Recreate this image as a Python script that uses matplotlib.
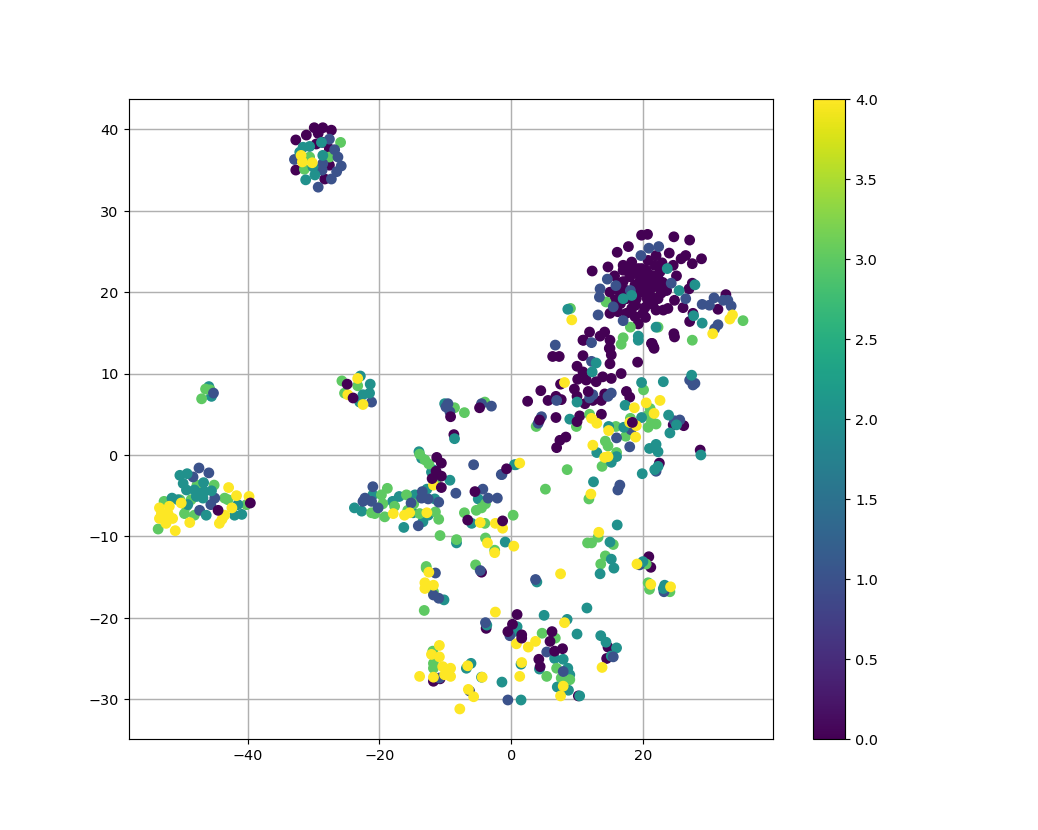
import numpy as np
import matplotlib
matplotlib.use("Agg")
import matplotlib.pyplot as plt

# values, (x, y) per label, listed in drawing order
Purple_Points=[(19.8,27.0),(20.7,27.1),(24.7,26.8),(27.1,26.4),(17.8,25.6),(16.1,24.9),(14.7,23.1),(12.3,22.6),(17.0,23.3),(18.3,23.7),
(20.8,23.9),(22.0,24.5),(24.0,24.8),(26.5,24.5),(25.8,24.1),(27.5,23.5),(28.9,24.1),(19.3,22.9),(15.7,22.0),(17.0,22.7),
(18.0,21.9),(20.5,22.7),(21.8,23.3),(22.6,22.5),(24.6,23.3),(25.1,22.0),(21.0,21.7),(22.3,21.7),(19.5,21.3),(17.0,21.3),
(18.8,20.9),(27.5,21.1),(27.0,20.4),(23.6,20.2),(15.0,20.0),(16.5,20.0),(15.7,19.0),(17.5,19.2),(20.8,19.8),(22.3,19.2),
(19.0,19.2),(24.8,19.0),(20.8,18.8),(22.0,17.8),(23.8,18.0),(23.1,17.8),(26.1,18.1),(27.6,17.4),(31.4,17.9),(32.6,19.7),
(18.3,18.0),(15.0,17.4),(16.2,17.6),(17.5,17.4),(18.8,17.0),(20.4,16.9),(19.3,16.1),(24.7,14.9),(24.8,14.5),(14.2,15.1),
(13.5,14.6),(11.9,15.1),(11.0,14.1),(15.0,14.1),(14.9,13.1),(21.3,13.7),(21.7,13.1),(27.1,16.4),(19.5,20.0),(21.5,20.6),(20.0,21.9),
(18.8,22.3),(19.6,22.2),(20.3,21.0),(21.0,20.6),(21.8,20.9),(22.5,20.6),(23.0,21.2),(19.0,20.3),(20.2,20.2),(20.6,19.3),
(21.4,19.4),(22.8,19.9),(21.5,18.5),(20.3,18.1),(18.9,18.4),(16.3,21.0),(17.5,20.2),(16.6,18.6),(19.8,22.9),(20.9,22.2),
(21.5,22.0),(23.2,23.0),(22.9,23.6),(18.0,22.8),(17.4,19.9),(18.4,19.1),(21.6,21.2),(20.0,17.4),
(15.0,13.1),(15.2,12.3),(15.0,11.2),(10.9,12.2),(6.3,12.1),(7.3,12.1),(19.2,11.4),(10.0,10.9),(21.4,13.7),(21.6,13.3),
(16.7,10.0),(10.9,10.2),(10.1,9.3),(11.4,9.2),(12.9,9.0),(13.9,9.6),(15.2,9.4),(7.5,8.7),(4.5,7.9),(9.6,8.1),(10.0,7.2),
(5.6,6.7),(6.8,7.2),(7.6,6.8),(2.5,6.6),(11.2,6.3),(12.4,6.7),(14.2,7.5),(13.7,6.7),(17.5,7.8),(18.0,7.1),(13.7,5.0),
(10.4,4.8),(6.8,4.6),(8.3,2.2),(7.4,1.8),(6.9,0.9),(26.2,3.6),(24.6,3.7),(28.7,0.6),(22.5,-1.0),(10.9,14.1),
(-29.9,40.2),(-28.6,40.2),(-27.3,39.9),(-32.7,38.7),(-31.1,39.3),(-29.3,39.5),(-28.6,38.4),(-27.6,37.6),(-32.7,35.0),
(-28.3,33.9),(-27.6,35.6),(-29.6,38.2),(-8.7,2.5),(-4.5,-14.4),(-11.8,-27.8),(-10.8,-27.5),(10.2,-29.6),(14.7,-23.6),(14.5,-25.0),
(20.9,-12.5),(21.2,-13.8),(-3.8,-21.3)]

Teal_Points=[(-14.0,0.4),(-13.6,-0.4),(-11.9,-1.8),(-12.1,-2.1),(-9.3,-3.1),(-12.8,-4.2),(-21.0,-4.9),(-23.8,-6.5),(-22.7,-6.9),
(-17.0,-5.1),(-18.0,-5.7),(-11.6,-5.4),(-14.6,-4.9),(-14.9,-7.1),(-13.4,-8.2),(-16.3,-8.9),(-5.0,-5.4),(-6.0,-8.4),(-8.3,-10.8),
(-0.9,-10.7),(0.5,-1.2),(-12.6,-7.4),(-45.5,7.2),(-45.9,8.4),(-10.1,6.3),(-8.6,2.0),(3.9,-15.6),(5.0,-19.7),(8.5,-20.2),
(11.5,-18.8),(10.0,-22.0),(0.9,-21.1),(0.4,-21.7),(13.6,-22.2),(14.4,-23.0),(16.0,-23.7),(15.2,-24.7),(7.9,-25.1),(6.6,-25.0),
(8.6,-26.2),(8.9,-27.0),(4.3,-26.3),(1.5,-25.7),(-6.8,-26.2),(-6.1,-25.6),(-1.4,-27.9),(7.0,-28.5),(8.7,-28.9),(10.4,-29.6),
(1.5,-30.1),(-4.5,-27.3),(-10.2,-17.8),(-3.7,-20.9)]

Green_Points=[(22.3,15.7),(18.1,15.7),(14.4,18.8),(9.0,18.0),(17.0,14.4),(16.7,13.6),(27.5,14.1),(35.2,16.5),
(20.1,8.0),(11.9,5.0),(9.9,3.5),(3.8,3.5),(18.1,4.5),(15.9,3.5),(17.4,2.3),(14.3,1.7),(14.7,1.1),(16.0,0.3),
(13.8,-1.4),(8.5,-1.8),(5.2,-4.2),(21.1,5.7),(20.8,4.9),(21.3,4.1),(22.0,3.8),(20.8,3.4),
(-25.9,38.4),(-30.6,36.6),(-31.4,35.1),(-27.6,36.6),
(-47.7,-3.7),(-45.1,-3.7),(-52.7,-5.7),(-50.3,-5.5),(-49.3,-6.3),(-49.6,-7.2),(-48.1,-7.4),(-43.5,-5.3),(-40.2,-6.1),(-53.6,-9.1),
(-48.6,-5.5),(-43.0,-5.5),
(-13.9,0.1),(-13.1,-0.6),(-12.5,-1.1),(-18.8,-4.1),(-19.7,-4.9),(-19.5,-6.0),(-19.2,-7.6),(-21.2,-7.1),(-20.7,-7.2),(-17.7,-6.3),
(-15.9,-4.9),(-14.8,-6.0),(-15.7,-6.8),(-13.9,-7.2),(-11.5,-7.0),(-11.0,-7.9),(-11.4,-3.1),(-7.1,-7.1),(-5.3,-6.8),(-4.5,-6.5),
(-3.9,-6.0),(-4.0,-8.4),(0.3,-7.4),(-10.8,-9.9),(-8.3,-10.4),(-3.9,-10.2),(-2.5,-11.7),(-5.4,-13.5),(-12.9,-13.7),
(-12.9,-13.9),(-11.8,-16.8),(-11.8,-25.6),(-11.8,-26.2),(-13.2,-19.1),(-11.9,-24.1),(4.7,-21.9),(6.7,-22.5),(5.4,-27.2),
(6.9,-26.2),(7.6,-27.4),(8.9,-27.6),
(11.8,-5.4),(11.6,-10.8),(12.2,-10.8),(13.2,-10.1),(15.5,-11.0),(14.3,-12.4),(13.6,-13.4),(20.5,-13.4),(20.8,-15.7),(21.0,-16.5),(24.1,-16.8),
(-46.4,8.1),(-45.7,8.0),(-47.0,6.9),(-25.7,9.1),(-23.3,8.5),(-25.3,7.6),(-8.6,5.8),(-7.1,5.2),(-4.0,6.5)]

Blue_Points=[(20.9,25.4),(22.4,25.6),(19.7,24.5),(14.6,21.6),(15.9,20.8),(13.5,20.4),(13.4,19.4),(18.1,20.2),(15.5,18.2),(13.2,17.2),
(17.0,16.5),(24.3,21.1),(26.5,19.2),(29.0,18.5),(30.8,19.3),(30.1,18.4),(32.2,19.0),(32.9,19.0),(33.4,18.3),(30.9,15.5),(31.4,16.0),(12.2,13.8),
(6.7,13.5),(12.2,11.5),(27.1,9.2),(27.9,8.8),(27.6,8.6),(12.4,7.4),(11.9,7.0),(14.7,7.2),(15.2,7.6),(6.9,6.7),(4.6,4.7),(4.1,3.9),
(16.0,2.1),(18.0,1.0),(24.8,4.2),(25.6,4.3),(22.0,-2.0),(-1.5,-2.4),(-4.3,-4.2),(16.5,-3.7),(18.2,3.1),
(-27.6,38.8),(-26.8,37.5),(-26.3,36.6),(-25.8,35.5),(-26.5,34.8),(-27.3,33.9),(-29.3,32.9),(-28.6,35.8),(-28.7,35.0),(-32.9,36.3),
(-47.4,-1.6),(-45.9,-2.2),(-48.3,-2.7),(-47.3,-6.8),(-45.6,-6.1),(-45.0,-5.3),
(-21.0,-3.9),(-22.2,-5.3),(-22.5,-5.7),(-21.2,-5.7),(-20.2,-6.5),(-15.2,-5.9),(-13.5,-4.5),(-13.6,-5.3),(-12.6,-5.4),(-11.0,-5.8),
(-14.1,-8.7),(-8.4,-4.7),(-5.7,-1.2),(-3.5,-5.3),(-2.1,-5.3),(-1.4,-2.4),
(-11.5,-14.5),(-4.7,-14.2),(-11.8,-17.2),(-11.0,-17.6),(3.7,-15.3),(-3.9,-20.6),(-0.5,-30.1),(-6.3,-29.0),(-10.9,-27.4),(5.4,-24.2),
(15.5,-24.8),(7.9,-26.6),(-0.2,-22.2),(16.2,-4.3),(23.2,-16.8),(19.5,-13.5),
(-45.2,7.6),(-21.2,6.5),(-9.6,6.3),(-9.9,5.9),(-9.3,5.3),(-4.5,6.3),(-3.0,6.0)]

Teal_Top_Points=[(23.7,22.9),(25.5,20.2),(27.9,20.9),(17.0,19.2),(18.3,19.6),(8.6,17.9),(27.7,17.1),(29.0,16.2),(22.0,15.7),(19.3,14.6),
(12.9,11.3),(12.3,10.2),(19.8,8.9),(23.1,9.0),(27.4,9.8),(10.0,6.5),(17.3,6.1),(8.9,4.4),(14.8,3.5),(17.1,3.4),(19.8,4.6),(23.9,4.9),
(25.1,3.7),(24.1,2.7),(21.0,0.8),(22.0,1.3),(22.3,0.4),(13.0,0.3),(16.0,-0.2),(15.2,-0.9),(28.8,0.0),(22.3,-1.4),(21.8,-1.8),(19.9,-2.3),
(12.5,-3.3),(0.7,-1.2),(19.3,14.1),
(-31.6,37.8),(-30.6,37.9),(-28.8,38.4),(-28.6,36.8),(-31.2,33.8),(-29.8,34.4),(-30.1,35.4),(-32.1,37.2),
(-50.3,-2.5),(-49.2,-2.3),(-49.8,-3.5),(-49.3,-4.3),(-46.7,-3.4),(-48.1,-4.3),(-47.3,-4.7),(-46.6,-4.5),(-45.5,-4.4),(-47.8,-5.1),
(-46.8,-5.3),(-46.3,-7.4),(-51.5,-5.3),(-42.0,-7.4),(-40.9,-7.3),(-41.5,-6.1),(-50.6,-5.5),(-49.1,-6.1),
(16.1,-8.6),(15.0,-10.7),(15.2,-12.8),(15.6,-13.9),(13.5,-14.6),(20.0,-13.1),(23.3,-16.0),(23.1,-16.4),
(-22.9,9.7),(-21.4,8.7),(-21.5,7.6),(-22.5,7.4),(-23.0,6.5)]

Yellow_Points=[(9.2,16.6),(33.6,17.2),(33.2,16.7),(30.6,14.9),
(8.1,8.9),(20.5,6.4),(22.6,6.7),(18.7,5.8),(21.7,5.1),(12.2,4.5),(13.0,3.9),(14.8,3.0),(18.0,4.0),(19.0,3.6),(18.9,2.2),(12.4,1.2),
(14.7,-0.2),(14.2,-0.3),(1.3,-1.0),
(-31.9,36.8),(-30.2,35.9),(-31.7,36.0),
(-53.4,-6.5),(-51.9,-6.3),(-53.1,-7.2),(-52.6,-7.8),(-51.4,-7.8),(-53.4,-7.8),(-52.4,-8.4),(-50.1,-5.9),(-48.8,-8.3),(-51.0,-9.3),
(-42.9,-4.0),(-41.7,-5.0),(-39.8,-5.1),(-42.4,-6.5),(-43.5,-7.4),(-43.9,-7.9),(-44.3,-8.4),(-52.1,-7.2),
(-17.9,-7.2),(-16.2,-7.4),(-12.8,-7.1),(-11.8,-3.7),(-4.7,-8.3),(-2.4,-8.4),(-1.3,-9.0),(-3.6,-10.8),(-2.5,-12.0),(0.4,-11.2),(-15.4,-7.1),
(-12.5,-14.4),(-13.1,-15.7),(-11.8,-16.0),(-13.1,-16.4),(-10.9,-23.4),(-12.1,-24.5),(-10.9,-24.8),(-10.4,-26.0),(-9.2,-26.2),(-9.2,-27.2),
(-10.1,-27.0),(-13.9,-27.2),(-11.8,-27.3),(-6.6,-25.9),(-4.4,-27.3),(-6.5,-28.8),(-5.7,-29.7),(-2.4,-19.3),(-7.8,-31.2),(7.5,-14.6),
(8.1,-20.6),(3.7,-22.9),(2.6,-23.6),(0.8,-23.2),(1.6,-25.5),(1.3,-27.2),(13.8,-26.1),(7.5,-29.6),(7.9,-28.4),
(12.1,-4.8),(13.3,-9.5),(19.1,-13.4),(21.2,-15.9),(24.2,-16.2),
(-23.3,9.4),(-24.8,7.4),(-22.5,6.2)]

Purple_Top_Points=[(-44.5,-6.8),(-39.6,-5.9),(-11.3,-0.3),(-10.6,-1.0),(-11.4,-2.0),(-10.6,-2.6),(-12.0,-2.9),(-10.6,-4.0),(-5.5,-4.5),
(-6.6,-8.0),(-0.7,-1.7),(-1.3,-8.1),(0.9,-19.6),(0.2,-20.8),(-0.5,-21.7),(1.6,-22.1),(1.6,-22.5),(6.2,-21.7),(5.9,-22.9),(7.8,-23.8),
(6.6,-24.1),(4.2,-25.1),(4.4,-26.0),(11.7,7.8),(10.0,4.1),(4.3,4.3),(18.4,4.0),(-24.9,8.7),(-24.0,7.0),(-4.8,5.8),(-9.2,4.7)]

Groups=[(Purple_Points,0),(Teal_Points,2),(Green_Points,3),(Blue_Points,1),(Teal_Top_Points,2),(Yellow_Points,4),(Purple_Top_Points,0)]

Points=np.concatenate([np.array(p) for p,l in Groups])
Labels=np.concatenate([np.full(len(p),l) for p,l in Groups])

fig=plt.figure(figsize=(10,8),dpi=103.8)
fig.subplots_adjust(left=0.1238,right=0.8995)
plt.scatter(Points[:,0],Points[:,1],c=Labels,cmap="viridis",vmin=0,vmax=4,s=42)
plt.colorbar()
plt.grid(True,linewidth=1.0)
ax=fig.axes[0]
ax.set_axisbelow(True)
ax.set_xlim(-58.1,39.7)
ax.set_ylim(-34.85,43.7)
plt.savefig("out.png",dpi=103.8)
